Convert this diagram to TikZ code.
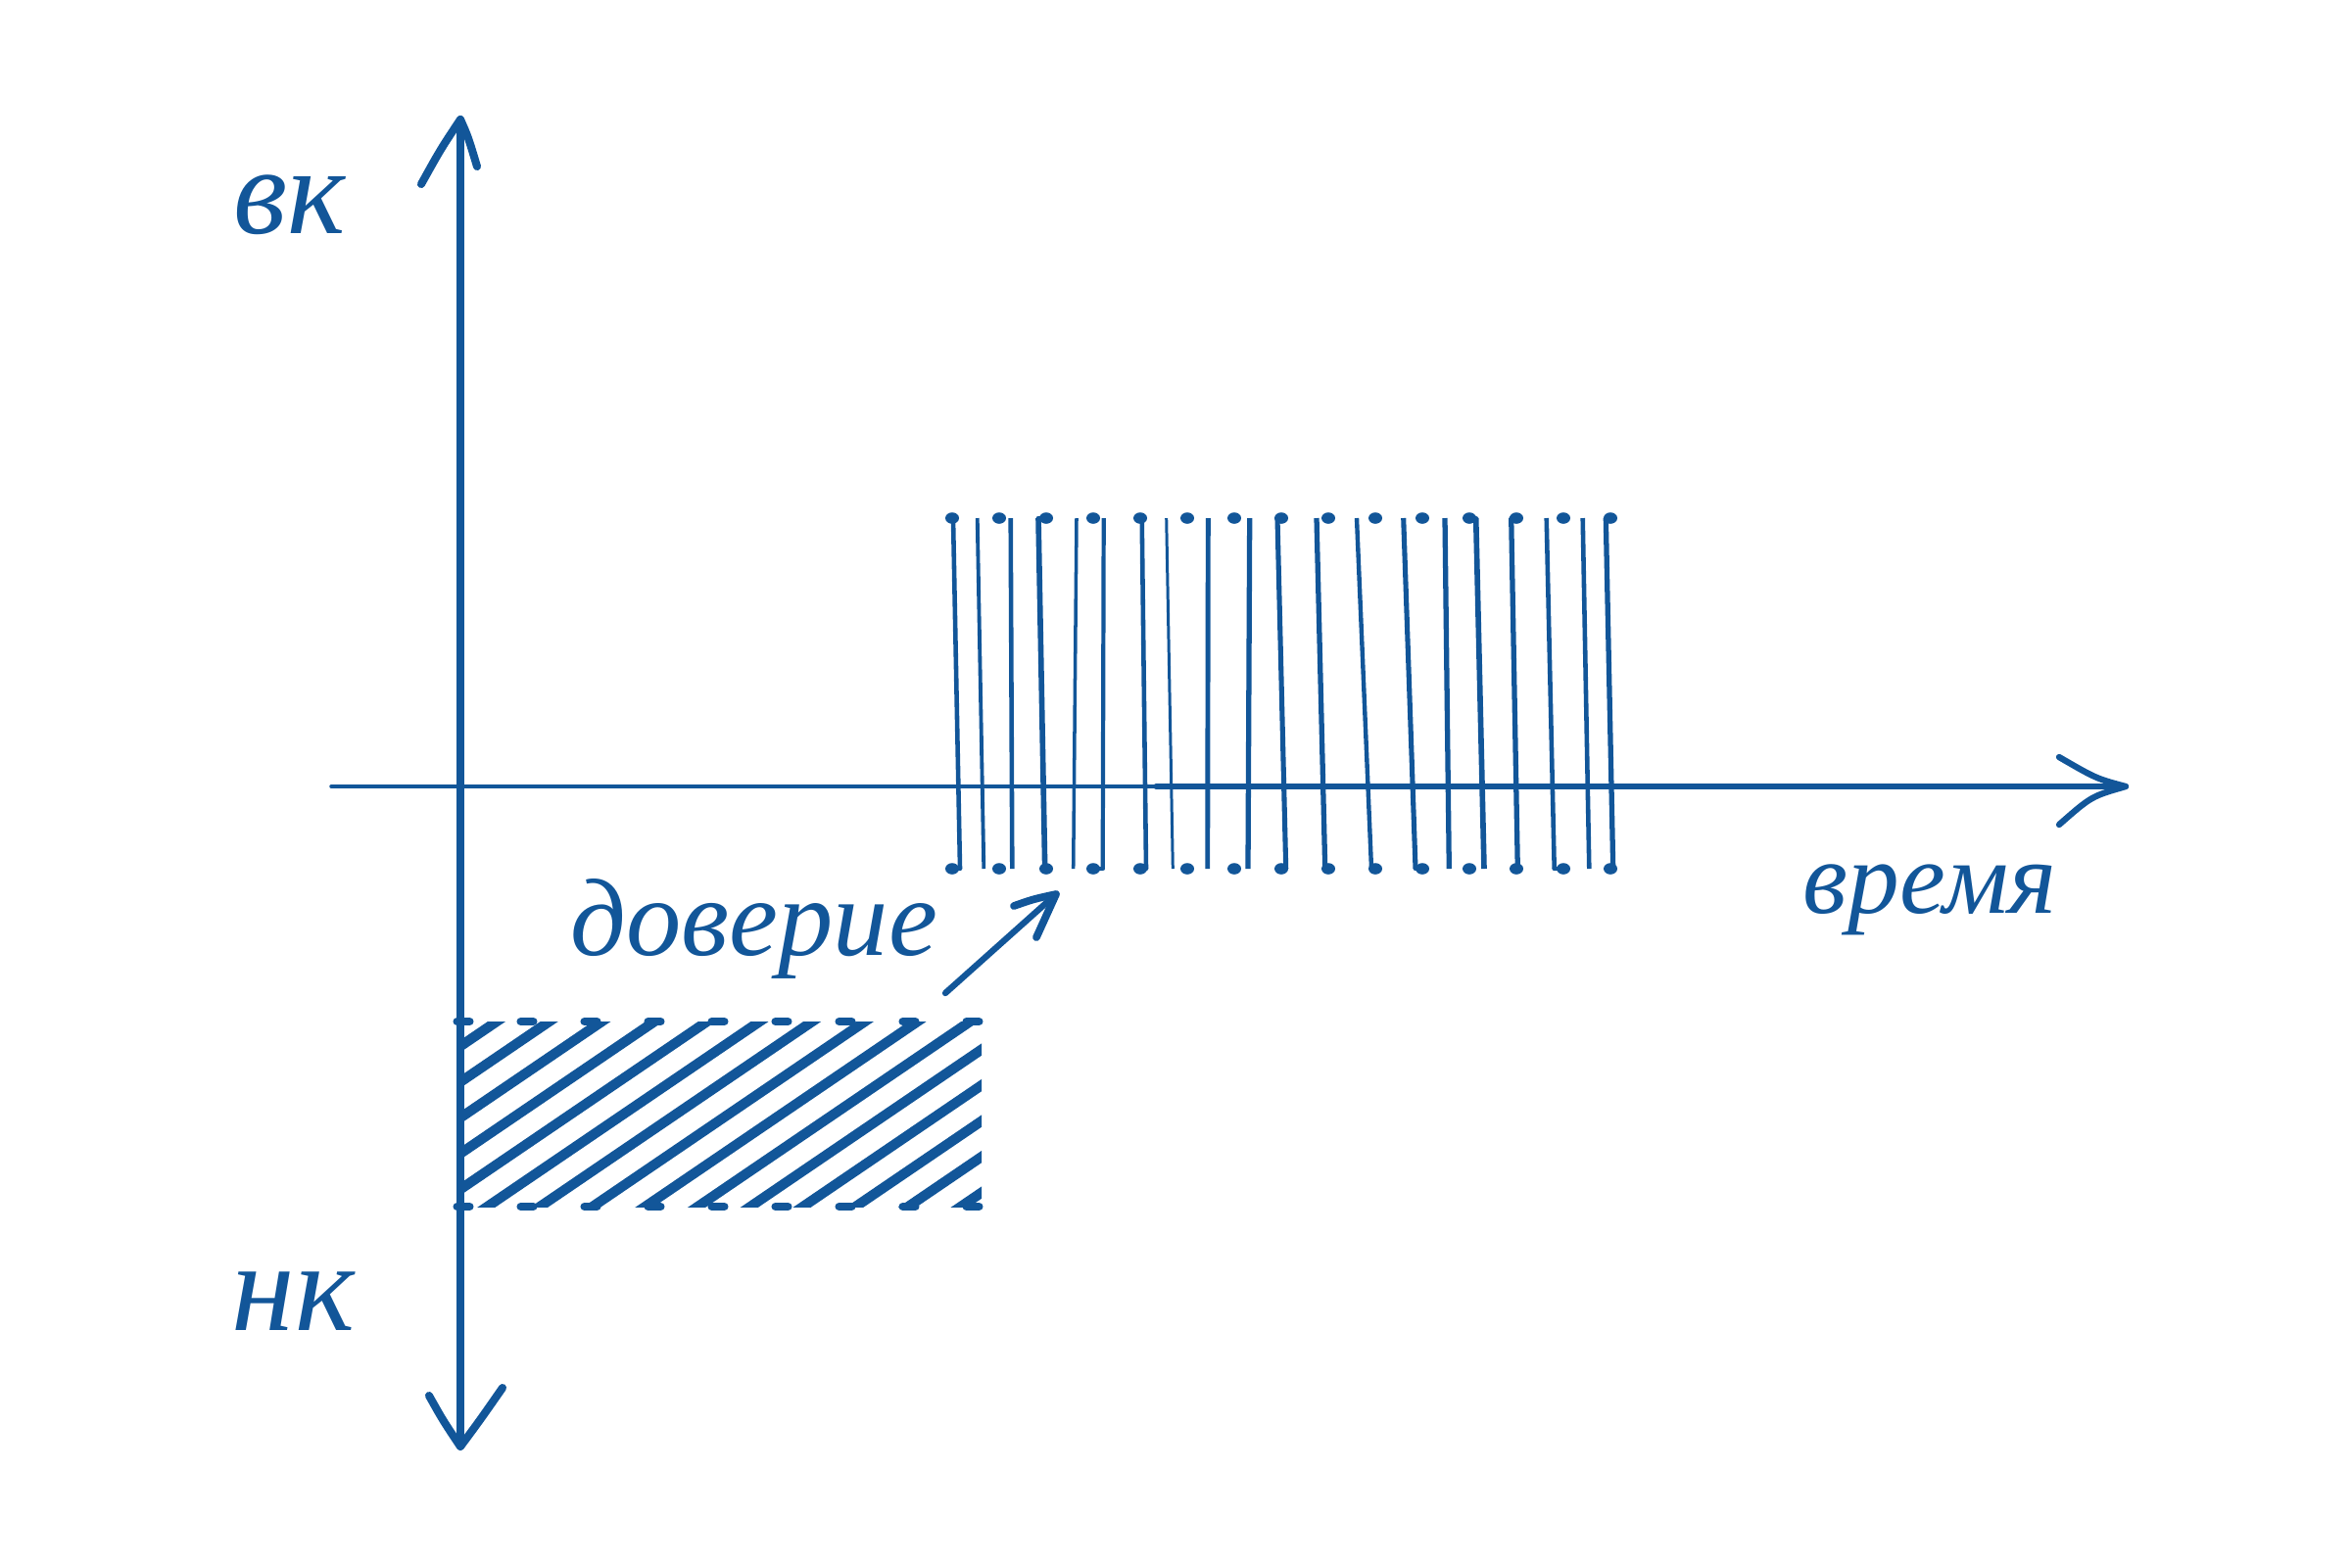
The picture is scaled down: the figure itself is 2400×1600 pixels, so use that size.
\documentclass[tikz,border=0pt]{standalone}
\usepackage{fontspec}
\setmainfont{Liberation Serif}
\definecolor{ink}{RGB}{18,86,153}
\begin{document}
\begin{tikzpicture}[x=0.1mm,y=-0.1mm,line cap=round,line join=round]
\tikzset{
  inkline/.style={draw=ink},
  hatchline/.style={draw=ink,line width=2.9pt,line cap=butt},
  dashmark/.style={draw=ink,line width=2.3pt,line cap=round},
  hooklink/.style={draw=ink,line width=1.3pt},
  hand/.style={text=ink,inner sep=0pt,anchor=base west},
}
\useasboundingbox (0,0) rectangle (2400,1600);
% axes
\coordinate (vt) at (470,122);
\coordinate (vb) at (470,1477);
\coordinate (hl) at (338,803);
\coordinate (hm) at (1180,803);
\coordinate (hr) at (2170,803);
\draw[inkline,line width=2.3pt] (vt) -- (vb);
\draw[inkline,line width=2.3pt] (430,188) .. controls (450,152) .. (vt) .. controls (478,140) .. (487,170);
\draw[inkline,line width=2.3pt] (438,1425) .. controls (452,1450) .. (vb) .. controls (490,1450) .. (513,1417);
\draw[inkline,line width=1.0pt] (hl) -- (hm);
\draw[inkline,line width=1.5pt] (hm) -- (hr);
\draw[inkline,line width=1.8pt] (2102,773) .. controls (2140,795) .. (hr) .. controls (2135,813) .. (2102,842);
% hatched rectangle
\begin{scope}
  \clip (470,1043) rectangle (1002,1232);
  \foreach \k in {0,...,14} {
    \pgfmathsetmacro\xt{507+53.7*\k}
    \draw[hatchline] ({\xt+100},975) -- ({\xt-450},1349);
  }
\end{scope}
\foreach \c in {473,538,...,993} {
  \draw[dashmark] ({\c-6.5},1043) -- ({\c+6.5},1043);
  \draw[dashmark] ({\c-6.5},1232) -- ({\c+6.5},1232);
}
% vertical lines
\foreach \xa/\xb/\w in {973/980/1.3, 997.7/1004.3/1.1, 1031.7/1033.3/1.3, 1060/1066.7/1.6,
  1099/1095.7/1.0, 1126.7/1125.7/1.2, 1165.7/1170/1.3, 1190.7/1197.3/0.85,
  1233.3/1232.7/1.4, 1275.7/1274/1.5, 1304/1312.7/1.45, 1344/1352.7/1.5,
  1385/1400/1.25, 1432.7/1445/1.45, 1475/1479.3/1.5, 1506.7/1515/1.6,
  1542.7/1549.3/1.5, 1578.7/1586.7/1.3, 1615.7/1622.3/1.3, 1639.3/1646.7/1.5} {
  \draw[inkline,line width=\w pt,line cap=butt] (\xa,529) -- (\xb,887);
}
\foreach \a/\b in {1060/1068, 1165.7/1164, 1304/1308, 1506.7/1500, 1542.7/1548, 1639.3/1644} {
  \draw[hooklink] (\a,529) -- (\b,529);
}
\foreach \a/\b in {980/972, 1066.7/1068, 1125.7/1116, 1170/1164, 1312.7/1308, 1352.7/1356,
  1400/1404, 1445/1452, 1549.3/1548, 1586.7/1596, 1646.7/1644} {
  \draw[hooklink] (\a,887) -- (\b,887);
}
\foreach \k in {0,...,14} {
  \fill[ink] ({972+48*\k},529) ellipse [x radius=7,y radius=5.8];
  \fill[ink] ({972+48*\k},887) ellipse [x radius=7,y radius=5.8];
}
% small arrow
\coordinate (sa) at (965,1014);
\coordinate (sb) at (1078,913);
\draw[inkline,line width=1.8pt] (sa) -- (sb);
\draw[inkline,line width=2.2pt] (1035,925) .. controls (1055,918) .. (sb) .. controls (1068,935) .. (1058,957);
% labels
\node[hand,font=\fontsize{36}{40}\selectfont\itshape] (vk) at (238,238) {вк};
\node[hand,font=\fontsize{37}{41}\selectfont\itshape] (nk) at (236,1358) {нк};
\node[hand,font=\fontsize{30}{34}\selectfont\itshape] (vremya) at (1840,932) {время};
\node[hand,font=\fontsize{32}{36}\selectfont\itshape] (doverie) at (582,975) {доверие};
\end{tikzpicture}
\end{document}
